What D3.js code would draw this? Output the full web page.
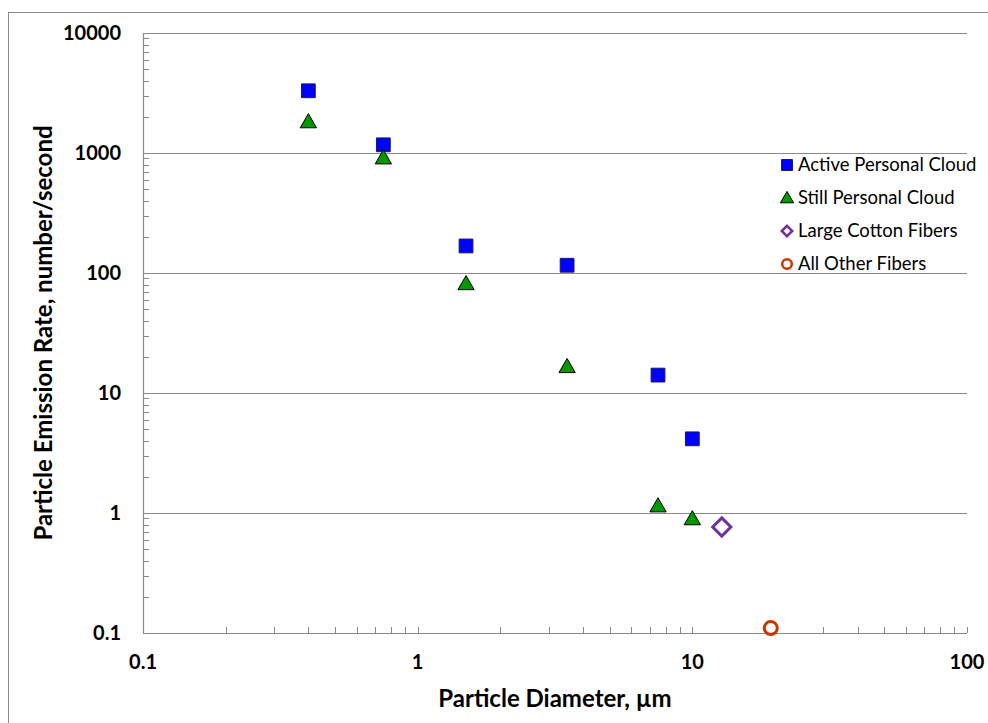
<!DOCTYPE html>
<html>
<head>
<meta charset="utf-8">
<script src="https://cdn.jsdelivr.net/npm/d3@7"></script>
<style>
  body { margin: 0; background: #fff; }
  svg text { font-family: Lato, "Open Sans", sans-serif; fill: #000; }
</style>
</head>
<body>
<div id="chart"></div>
<script>
// Particle emission rate vs. diameter (log-log scatter)
const diameters = [0.4, 0.75, 1.5, 3.5, 7.5, 10];
const activeRates = [3300, 1170, 168, 116, 14.1, 4.15];
const stillRates = [1810, 905, 81, 16.5, 1.14, 0.89];
const cottonPoints = [{ x: 12.8, y: 0.765 }];
const otherPoints = [{ x: 19.3, y: 0.11 }];
const xTicks = [0.1, 1, 10, 100];
const yTicks = [0.1, 1, 10, 100, 1000, 10000];
const seriesNames = ["Active Personal Cloud", "Still Personal Cloud", "Large Cotton Fibers", "All Other Fibers"];

{
    const W = 988, H = 723;
    const margin = { top: 33, right: 21, bottom: 90, left: 143 };
    const width = W - margin.left - margin.right;
    const height = H - margin.top - margin.bottom;

    const root = d3.select("#chart").append("svg")
        .attr("width", W)
        .attr("height", H);

    // outer chart border
    root.append("rect")
        .attr("x", 8.5).attr("y", 12.5)
        .attr("width", 990).attr("height", 730)
        .attr("fill", "none").attr("stroke", "#898989").attr("stroke-width", 1);

    const svg = root.append("g")
        .attr("transform", `translate(${margin.left},${margin.top})`);

    const x = d3.scaleLog().domain([0.1, 100]).range([0, width]);
    const y = d3.scaleLog().domain([0.1, 10000]).range([height, 0]);

    // gridlines at each decade
    svg.append("g").selectAll("line")
        .data(yTicks.filter(d => d > 0.1))
        .join("line")
        .attr("x1", 0).attr("x2", width)
        .attr("y1", d => Math.round(y(d)) + 0.5).attr("y2", d => Math.round(y(d)) + 0.5)
        .attr("stroke", "#898989").attr("stroke-width", 1.2);

    // minor ticks (inside)
    const minorX = [], minorY = [];
    for (let e = -1; e < 2; e++) for (let k = 1; k <= 10; k++) minorX.push(k * Math.pow(10, e));
    for (let e = -1; e < 4; e++) for (let k = 1; k <= 10; k++) minorY.push(k * Math.pow(10, e));

    svg.append("g").selectAll("line")
        .data(minorX)
        .join("line")
        .attr("x1", d => Math.round(x(d)) + 0.5).attr("x2", d => Math.round(x(d)) + 0.5)
        .attr("y1", height).attr("y2", height - 6)
        .attr("stroke", "#898989");

    svg.append("g").selectAll("line")
        .data(minorY)
        .join("line")
        .attr("x1", 0).attr("x2", 6)
        .attr("y1", d => Math.round(y(d)) + 0.5).attr("y2", d => Math.round(y(d)) + 0.5)
        .attr("stroke", "#898989");

    // axis lines
    svg.append("line")
        .attr("x1", 0.5).attr("x2", 0.5).attr("y1", 0).attr("y2", height)
        .attr("stroke", "#898989").attr("stroke-width", 1.2);
    svg.append("line")
        .attr("x1", 0).attr("x2", width).attr("y1", height + 0.5).attr("y2", height + 0.5)
        .attr("stroke", "#898989").attr("stroke-width", 1.2);

    // tick labels
    svg.append("g").selectAll("text")
        .data(yTicks)
        .join("text")
        .attr("x", -22).attr("y", d => y(d))
        .attr("dy", "0.35em")
        .attr("text-anchor", "end")
        .style("font-size", "20px").style("font-weight", "bold")
        .text(d => d3.format("")(d));

    svg.append("g").selectAll("text")
        .data(xTicks)
        .join("text")
        .attr("x", d => x(d)).attr("y", height + 36)
        .attr("text-anchor", "middle")
        .style("font-size", "20px").style("font-weight", "bold")
        .text(d => d3.format("")(d));

    // axis titles
    svg.append("text")
        .attr("x", width / 2).attr("y", height + 74)
        .attr("text-anchor", "middle")
        .style("font-size", "24px").style("font-weight", "bold")
        .text("Particle Diameter, µm");

    svg.append("text")
        .attr("transform", `translate(${-91},${height / 2}) rotate(-90)`)
        .attr("text-anchor", "middle")
        .style("font-size", "24px").style("font-weight", "bold")
        .text("Particle Emission Rate, number/second");

    const square = d3.symbol().type(d3.symbolSquare).size(190);
    const triangle = d3.symbol().type(d3.symbolTriangle).size(115);
    const diamond = d3.symbol().type(d3.symbolDiamond2).size(210);

    const active = diameters.map((d, i) => ({ x: d, y: activeRates[i] }));
    const still = diameters.map((d, i) => ({ x: d, y: stillRates[i] }));

    svg.append("g").selectAll("path")
        .data(active)
        .join("path")
        .attr("d", square)
        .attr("transform", d => `translate(${x(d.x)},${y(d.y)})`)
        .attr("fill", "#0000ff").attr("stroke", "#1a1a5e").attr("stroke-width", 1);

    svg.append("g").selectAll("path")
        .data(still)
        .join("path")
        .attr("d", triangle)
        .attr("transform", d => `translate(${x(d.x)},${y(d.y) + 1})`)
        .attr("fill", "#009900").attr("stroke", "#000").attr("stroke-width", 1);

    svg.append("g").selectAll("path")
        .data(cottonPoints)
        .join("path")
        .attr("d", diamond)
        .attr("transform", d => `translate(${x(d.x)},${y(d.y)})`)
        .attr("fill", "#fff").attr("stroke", "#7030a0").attr("stroke-width", 3);

    svg.append("g").selectAll("circle")
        .data(otherPoints)
        .join("circle")
        .attr("cx", d => x(d.x)).attr("cy", d => y(d.y))
        .attr("r", 6.5)
        .attr("fill", "#fff").attr("stroke", "#cc3300").attr("stroke-width", 3);

    // legend
    const legend = root.append("g").attr("transform", "translate(787,165)");
    const rows = legend.selectAll("g")
        .data(seriesNames)
        .join("g")
        .attr("transform", (d, i) => `translate(0,${i * 33})`);

    rows.each(function (d, i) {
        const g = d3.select(this);
        if (i === 0) g.append("path").attr("d", d3.symbol().type(d3.symbolSquare).size(120))
            .attr("fill", "#0000ff").attr("stroke", "#1a1a5e");
        if (i === 1) g.append("path").attr("d", d3.symbol().type(d3.symbolTriangle).size(75))
            .attr("transform", "translate(0,1)")
            .attr("fill", "#009900").attr("stroke", "#000");
        if (i === 2) g.append("path").attr("d", d3.symbol().type(d3.symbolDiamond2).size(70))
            .attr("fill", "#fff").attr("stroke", "#7030a0").attr("stroke-width", 2.5);
        if (i === 3) g.append("circle").attr("r", 4.8)
            .attr("fill", "#fff").attr("stroke", "#cc3300").attr("stroke-width", 2.5);
    });

    rows.append("text")
        .attr("x", 11).attr("dy", "0.35em")
        .style("font-size", "18.5px")
        .text(d => d);
}
</script>
</body>
</html>
